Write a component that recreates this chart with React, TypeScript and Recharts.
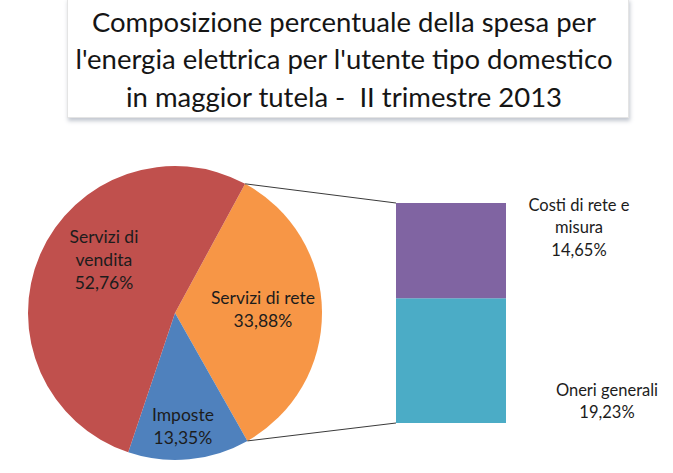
import React from 'react';
import { PieChart, Pie, Cell, BarChart, Bar, XAxis, YAxis } from 'recharts';

const titleLines = [
  'Composizione percentuale della spesa per',
  "l'energia elettrica per l'utente tipo domestico",
  'in maggior tutela -  II trimestre 2013',
];

const pieNames = ['Servizi di rete', 'Imposte', 'Servizi di vendita'];
const pieValues = [33.88, 13.35, 52.76];
const pieLabelLines = [['Servizi di rete'], ['Imposte'], ['Servizi di', 'vendita']];
const pieColors = ['#F79646', '#4F81BD', '#C0504D'];

const barNames = ['Oneri generali', 'Costi di rete e misura'];
const barValues = [19.23, 14.65];
const barLabelLines = [['Oneri generali'], ['Costi di rete e', 'misura']];
const barColors = ['#4BACC6', '#8064A2'];

const W = 673;
const H = 473;
const FONT = 'Lato, "Open Sans", sans-serif';
const PIE_CX = 175;
const PIE_CY = 313;
const PIE_R = 147;
const START = 61.5;
const BAR_LEFT = 396;
const BAR_TOP = 203;
const BAR_W = 110;
const BAR_H = 220;

const pieData = pieNames.map((name, i) => ({ name, value: pieValues[i], lines: pieLabelLines[i] }));
const barRow: Record<string, number | string> = { cat: 'rete' };
barNames.forEach((n, i) => { barRow[n] = barValues[i]; });
const barData = [barRow];

const fmt = (v: number) => v.toFixed(2).replace('.', ',') + '%';
const RAD = Math.PI / 180;

// label placement (radius, angular shift from slice middle)
const pieLabelPlace: Record<string, { r: number; d: number }> = {
  'Servizi di rete': { r: 88, d: 2 },
  'Imposte': { r: 114, d: -1.5 },
  'Servizi di vendita': { r: 89, d: -13.5 },
};
const LINE_H = 23;

const renderPieLabel = (props: any) => {
  const { cx, cy, midAngle, index } = props;
  const d = pieData[index];
  const place = pieLabelPlace[d.name];
  const a = (midAngle + place.d) * RAD;
  const x = cx + place.r * Math.cos(a);
  const y = cy - place.r * Math.sin(a);
  const lines = [...d.lines, fmt(d.value)];
  const y0 = y - ((lines.length - 1) * LINE_H) / 2;
  return (
    <text key={'pl' + index} x={x} y={y0} textAnchor="middle" fontFamily={FONT} fontSize={17.5} fill="#1c1c1c">
      {lines.map((l, i) => (
        <tspan key={i} x={x} y={y0 + i * LINE_H} dy="0.35em">{l}</tspan>
      ))}
    </text>
  );
};

const makeBarLabel = (idx: number) => (props: any) => {
  const { x, y, width, height } = props;
  const lines = [...barLabelLines[idx], fmt(barValues[idx])];
  let cxL: number;
  let y0: number;
  if (idx === 1) {
    cxL = x + width + 73;
    y0 = y + 2;
  } else {
    cxL = x + width + 101;
    y0 = y + height - 33;
  }
  return (
    <text x={cxL} y={y0} textAnchor="middle" fontFamily={FONT} fontSize={16.5} fill="#1c1c1c">
      {lines.map((l, i) => (
        <tspan key={i} x={cxL} y={y0 + i * 22.5} dy="0.35em">{l}</tspan>
      ))}
    </text>
  );
};

const polar = (angle: number) => ({
  x: PIE_CX + PIE_R * Math.cos(angle * RAD),
  y: PIE_CY - PIE_R * Math.sin(angle * RAD),
});

export default function App() {
  const total = pieValues.reduce((a, b) => a + b, 0);
  const p1 = polar(START);
  const p2 = polar(START - (360 * pieValues[0]) / total);
  const abs: React.CSSProperties = { position: 'absolute', left: 0, top: 0 };
  return (
    <div style={{ position: 'absolute', left: 0, top: 0, width: W, height: H, background: '#fff', overflow: 'hidden' }}>
      <div
        style={{
          position: 'absolute', left: 67, top: -2, width: 560, height: 118,
          background: '#fff', border: '1px solid #e4e4e4',
          boxShadow: '1px 3px 4px rgba(120,130,150,0.45)',
        }}
      />
      <svg width={W} height={H} style={abs}>
        {titleLines.map((t, i) => (
          <text key={i} x={344} y={22 + i * 37.5} dy="0.35em" textAnchor="middle" fontFamily={FONT} fontSize={27.5} fill="#151515" style={{ whiteSpace: 'pre' }}>
            {t}
          </text>
        ))}
      </svg>
      <div style={abs}>
        <PieChart width={W} height={H} margin={{ top: 0, right: 0, bottom: 0, left: 0 }}>
          <Pie
            data={pieData}
            dataKey="value"
            nameKey="name"
            cx={PIE_CX}
            cy={PIE_CY}
            outerRadius={PIE_R}
            startAngle={START}
            endAngle={START - 360}
            stroke="none"
            label={renderPieLabel}
            labelLine={false}
            isAnimationActive={false}
          >
            {pieData.map((d, i) => (
              <Cell key={d.name} fill={pieColors[i]} />
            ))}
          </Pie>
        </PieChart>
      </div>
      <div style={abs}>
        <BarChart
          width={W}
          height={H}
          data={barData}
          margin={{ left: BAR_LEFT, top: BAR_TOP, right: W - BAR_LEFT - BAR_W, bottom: H - BAR_TOP - BAR_H }}
          barCategoryGap={0}
        >
          <XAxis dataKey="cat" hide />
          <YAxis hide domain={[0, barValues[0] + barValues[1]]} />
          {barNames.map((n, i) => (
            <Bar key={n} dataKey={n} stackId="s" fill={barColors[i]} isAnimationActive={false} label={makeBarLabel(i)} />
          ))}
        </BarChart>
      </div>
      <svg width={W} height={H} style={abs}>
        <line x1={p1.x} y1={p1.y} x2={BAR_LEFT} y2={BAR_TOP} stroke="#3a3a3a" strokeWidth={1} />
        <line x1={p2.x} y1={p2.y} x2={BAR_LEFT} y2={BAR_TOP + BAR_H} stroke="#3a3a3a" strokeWidth={1} />
      </svg>
    </div>
  );
}
